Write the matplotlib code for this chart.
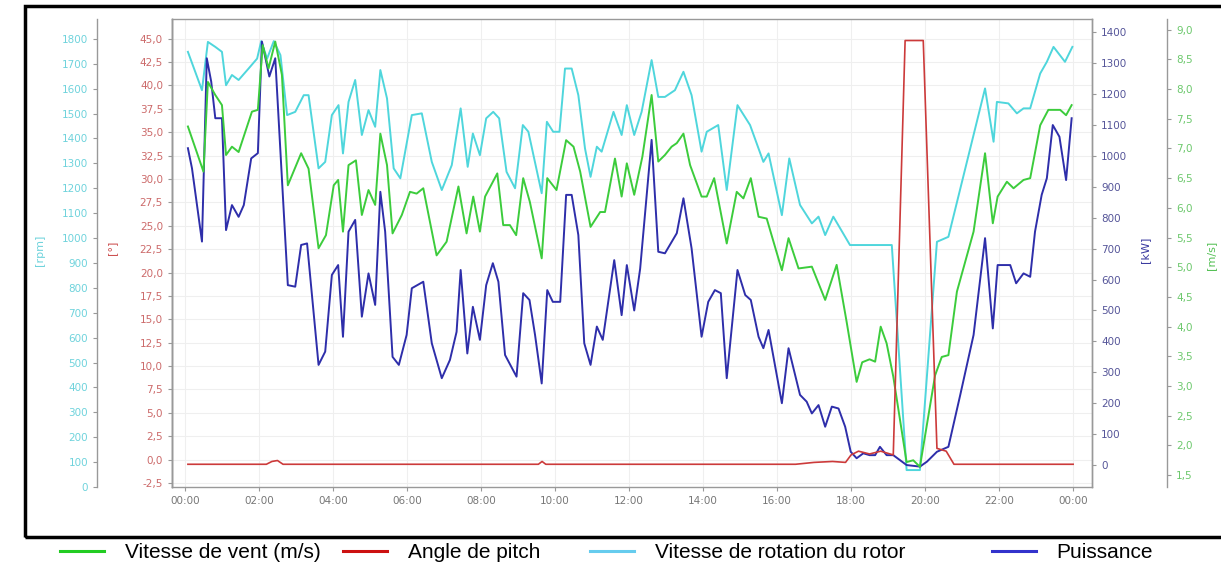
import matplotlib
matplotlib.use("Agg")
import matplotlib.pyplot as plt
from matplotlib.lines import Line2D
from matplotlib.patches import Rectangle
from matplotlib.ticker import FuncFormatter

# ---- data (hours since 00:00) ----
cyan_t = [0.08, 0.46, 0.62, 0.82, 1.0, 1.11, 1.27, 1.45, 1.72, 1.95,
          2.06, 2.22, 2.40, 2.58, 2.76, 2.98, 3.21, 3.34, 3.61, 3.79,
          3.97, 4.15, 4.27, 4.42, 4.60, 4.78, 4.96, 5.14, 5.28, 5.46,
          5.64, 5.82, 6.13, 6.40, 6.67, 6.94, 7.21, 7.45, 7.64, 7.78,
          7.97, 8.14, 8.33, 8.49, 8.69, 8.92, 9.13, 9.28, 9.64, 9.78,
          9.95, 10.12, 10.27, 10.45, 10.63, 10.81, 10.96, 11.13, 11.26, 11.58,
          11.80, 11.94, 12.14, 12.34, 12.61, 12.79, 12.97, 13.24, 13.47, 13.69,
          13.96, 14.10, 14.41, 14.64, 14.93, 15.27, 15.63, 15.77, 16.13, 16.33,
          16.62, 16.94, 17.12, 17.30, 17.52, 17.97, 19.10, 19.50, 19.86, 20.32,
          20.63, 21.62, 21.85, 21.94, 22.25, 22.48, 22.66, 22.84, 23.11, 23.29,
          23.47, 23.78, 23.98]
cyan_rpm = [1748, 1594, 1788, 1768, 1748, 1614, 1655, 1635, 1681, 1721,
            1791, 1721, 1791, 1735, 1494, 1507, 1574, 1574, 1280, 1306,
            1494, 1534, 1340, 1547, 1635, 1414, 1514, 1447, 1675, 1561,
            1280, 1240, 1494, 1501, 1306, 1193, 1293, 1521, 1286, 1420,
            1333, 1481, 1507, 1481, 1266, 1200, 1454, 1427, 1180, 1467,
            1427, 1427, 1681, 1681, 1574, 1360, 1246, 1367, 1347, 1507,
            1414, 1534, 1414, 1507, 1715, 1567, 1567, 1594, 1668, 1574,
            1347, 1427, 1454, 1193, 1534, 1454, 1306, 1340, 1092, 1320,
            1133, 1059, 1086, 1012, 1086, 972, 972, 68, 68, 985,
            1005, 1601, 1387, 1547, 1541, 1501, 1521, 1521, 1661, 1708,
            1768, 1708, 1768]

green_t = [0.08, 0.50, 0.62, 0.82, 1.0, 1.11, 1.27, 1.45, 1.81, 1.97,
           2.10, 2.26, 2.44, 2.62, 2.78, 3.14, 3.34, 3.61, 3.81, 4.02,
           4.14, 4.27, 4.42, 4.62, 4.78, 4.96, 5.14, 5.28, 5.46, 5.61,
           5.86, 6.08, 6.26, 6.44, 6.80, 7.07, 7.39, 7.61, 7.79, 7.97,
           8.11, 8.44, 8.60, 8.78, 8.95, 9.14, 9.32, 9.64, 9.79, 10.04,
           10.30, 10.50, 10.68, 10.96, 11.22, 11.35, 11.62, 11.80, 11.94, 12.14,
           12.36, 12.61, 12.79, 12.97, 13.15, 13.29, 13.47, 13.65, 13.96, 14.10,
           14.30, 14.64, 14.91, 15.09, 15.29, 15.50, 15.72, 16.13, 16.31, 16.58,
           16.94, 17.30, 17.61, 17.88, 18.15, 18.30, 18.50, 18.65, 18.80, 18.96,
           19.14, 19.50, 19.68, 19.86, 20.27, 20.45, 20.63, 20.86, 21.31, 21.62,
           21.83, 21.96, 22.21, 22.39, 22.66, 22.84, 23.11, 23.33, 23.65, 23.81,
           23.96]
green_ms = [7.37, 6.61, 8.12, 7.90, 7.73, 6.89, 7.03, 6.94, 7.62, 7.65,
            8.74, 8.35, 8.80, 8.24, 6.38, 6.92, 6.66, 5.32, 5.54, 6.38,
            6.47, 5.60, 6.72, 6.80, 5.88, 6.30, 6.05, 7.25, 6.72, 5.57,
            5.88, 6.27, 6.24, 6.33, 5.20, 5.43, 6.36, 5.57, 6.19, 5.60,
            6.19, 6.58, 5.71, 5.71, 5.54, 6.50, 6.10, 5.15, 6.50, 6.30,
            7.14, 7.03, 6.61, 5.68, 5.93, 5.93, 6.83, 6.19, 6.75, 6.22,
            6.86, 7.90, 6.78, 6.89, 7.03, 7.09, 7.25, 6.72, 6.19, 6.19,
            6.50, 5.40, 6.27, 6.16, 6.50, 5.85, 5.82, 4.95, 5.49, 4.98,
            5.01, 4.45, 5.04, 4.08, 3.07, 3.40, 3.45, 3.41, 4.00, 3.72,
            3.16, 1.72, 1.75, 1.64, 3.18, 3.49, 3.52, 4.59, 5.60, 6.92,
            5.74, 6.19, 6.44, 6.33, 6.47, 6.50, 7.39, 7.65, 7.65, 7.56,
            7.73]

blue_t = [0.08, 0.19, 0.46, 0.59, 0.71, 0.82, 1.0, 1.11, 1.27, 1.45,
          1.59, 1.79, 1.97, 2.08, 2.28, 2.44, 2.78, 2.98, 3.14, 3.30,
          3.61, 3.79, 3.97, 4.14, 4.27, 4.42, 4.60, 4.78, 4.96, 5.14,
          5.28, 5.41, 5.61, 5.78, 5.99, 6.13, 6.44, 6.67, 6.94, 7.16,
          7.34, 7.45, 7.63, 7.78, 7.97, 8.14, 8.32, 8.47, 8.65, 8.96,
          9.14, 9.31, 9.46, 9.64, 9.79, 9.94, 10.14, 10.30, 10.45, 10.63,
          10.79, 10.96, 11.13, 11.29, 11.60, 11.80, 11.94, 12.14, 12.30, 12.61,
          12.79, 12.97, 13.29, 13.47, 13.69, 13.96, 14.14, 14.32, 14.48, 14.64,
          14.93, 15.14, 15.29, 15.50, 15.63, 15.77, 16.13, 16.31, 16.62, 16.80,
          16.94, 17.12, 17.30, 17.48, 17.66, 17.84, 17.99, 18.15, 18.33, 18.50,
          18.65, 18.78, 18.96, 19.14, 19.50, 19.86, 20.05, 20.32, 20.63, 20.95,
          21.31, 21.62, 21.83, 21.96, 22.30, 22.46, 22.66, 22.84, 22.97, 23.15,
          23.29, 23.45, 23.63, 23.81, 23.96]
blue_kw = [1025, 960, 723, 1316, 1240, 1122, 1122, 760, 841, 803,
           841, 992, 1009, 1370, 1257, 1316, 582, 577, 712, 717,
           324, 367, 615, 647, 415, 755, 793, 480, 620, 518,
           884, 755, 350, 324, 421, 572, 593, 394, 281, 340,
           431, 631, 361, 512, 405, 582, 653, 593, 356, 286,
           556, 534, 421, 264, 566, 528, 528, 874, 874, 744,
           394, 324, 448, 405, 663, 485, 647, 500, 635, 1052,
           690, 685, 750, 863, 701, 415, 528, 566, 556, 281,
           631, 550, 534, 415, 378, 437, 200, 378, 227, 205,
           167, 194, 124, 189, 183, 124, 43, 22, 38, 32,
           32, 59, 32, 32, 0, -5, 11, 43, 59, 227,
           421, 734, 442, 647, 647, 588, 620, 609, 755, 874,
           928, 1100, 1062, 922, 1122]

red_t = [0.08, 2.2, 2.35, 2.5, 2.65, 9.55, 9.65, 9.75, 16.5, 17.0,
         17.5, 17.85, 18.0, 18.2, 18.5, 18.8, 19.14, 19.46, 19.95, 20.32,
         20.57, 20.78, 24.0]
red_deg = [-0.5, -0.5, -0.2, -0.1, -0.5, -0.5, -0.2, -0.5, -0.5, -0.3,
           -0.2, -0.3, 0.5, 0.9, 0.6, 0.9, 0.5, 44.8, 44.8, 1.2,
           0.9, -0.5, -0.5]

hour_ticks = [0, 2, 4, 6, 8, 10, 12, 14, 16, 18, 20, 22, 24]
hour_labels = ["00:00", "02:00", "04:00", "06:00", "08:00", "10:00", "12:00",
               "14:00", "16:00", "18:00", "20:00", "22:00", "00:00"]

legend_names = ["Vitesse de vent (m/s)", "Angle de pitch",
                "Vitesse de rotation du rotor", "Puissance"]

W, H = 1221, 567
fig = plt.figure(figsize=(W / 100, H / 100), dpi=100)
plt.rcParams['font.family'] = ['DejaVu Sans']

left, right, top, bottom = 172, 1092, 19, 487
ax = fig.add_axes([left / W, 1 - bottom / H, (right - left) / W, (bottom - top) / H])
ax_rpm = ax.twinx()
ax_kw = ax.twinx()
ax_ms = ax.twinx()

spine_col = "#999999"
for a in (ax, ax_rpm, ax_kw, ax_ms):
    for s in a.spines.values():
        s.set_color(spine_col)
        s.set_linewidth(1.0)
    a.tick_params(length=3, width=0.8, color=spine_col, labelsize=7.5)

# red (pitch) on main axis
ax.set_xlim(-0.35, 24.51)
ax.set_ylim(-2.93, 47.1)
ax.set_yticks([-2.5 + 2.5 * i for i in range(20)])
ax.yaxis.set_major_formatter(FuncFormatter(lambda v, p: f"{v:.1f}".replace(".", ",")))
ax.tick_params(axis='y', labelcolor="#cc6a6a")
ax.set_xticks(hour_ticks)
ax.set_xticklabels(hour_labels)
ax.tick_params(axis='x', labelcolor="#777777", labelsize=7.5)
ax.grid(True, color="#efefef", linewidth=0.8)
ax.set_axisbelow(True)

# rpm axis on far left (75 px = 54 pt)
ax_rpm.spines['left'].set_position(('outward', 54))
ax_rpm.spines['left'].set_visible(True)
ax_rpm.spines['right'].set_visible(False)
ax_rpm.yaxis.set_ticks_position('left')
ax_rpm.yaxis.set_label_position('left')
ax_rpm.set_ylim(0, 1880)
ax_rpm.set_yticks(range(0, 1900, 100))
ax_rpm.tick_params(axis='y', labelcolor="#6fd3dc")

# kW axis on right
ax_kw.set_ylim(-71, 1443)
ax_kw.set_yticks(range(0, 1500, 100))
ax_kw.tick_params(axis='y', labelcolor="#555599")

# m/s axis far right
ax_ms.spines['right'].set_position(('outward', 54))
ax_ms.set_ylim(1.30, 9.18)
ax_ms.set_yticks([1.5 + 0.5 * i for i in range(16)])
ax_ms.yaxis.set_major_formatter(FuncFormatter(lambda v, p: f"{v:.1f}".replace(".", ",")))
ax_ms.tick_params(axis='y', labelcolor="#6cc86c")

for a in (ax_rpm, ax_kw, ax_ms):
    a.spines['top'].set_visible(False)
    a.spines['bottom'].set_visible(False)

ax_ms.plot(green_t, green_ms, color="#3ccc3c", lw=1.4)
ax_rpm.plot(cyan_t, cyan_rpm, color="#4fd6dc", lw=1.4)
ax_kw.plot(blue_t, blue_kw, color="#2e2eaa", lw=1.4)
ax_ms.plot(red_t, red_deg, color="#cc3a3a", lw=1.2, transform=ax.transData)

# unit labels
fig.text(40 / W, 1 - 250 / H, "[rpm]", color="#6fd3dc", rotation=90, ha='center', va='center', fontsize=8)
fig.text(112 / W, 1 - 248 / H, "[°]", color="#cc5050", rotation=90, ha='center', va='center', fontsize=8)
fig.text(1145 / W, 1 - 250 / H, "[kW]", color="#3a3aa0", rotation=90, ha='center', va='center', fontsize=8)
fig.text(1211 / W, 1 - 255 / H, "[m/s]", color="#55c055", rotation=90, ha='center', va='center', fontsize=8)

# outer black frame
fig.add_artist(Rectangle((25 / W, 1 - 537 / H), 1.0, (537 - 6) / H,
                         transform=fig.transFigure, fill=False,
                         edgecolor="black", linewidth=2.5, clip_on=False))

# legend entries below the frame
leg_colors = ["#22cc22", "#cc1111", "#66ccee", "#3333cc"]
leg_x = [60, 343, 590, 992]
for name, col, x0 in zip(legend_names, leg_colors, leg_x):
    h = Line2D([], [], color=col, lw=2.2)
    fig.legend(handles=[h], labels=[name], loc='center left',
               bbox_to_anchor=(x0 / W, 1 - 553 / H), frameon=False,
               prop={'family': 'Liberation Sans', 'size': 15},
               handlelength=2.1, handletextpad=1.0, borderpad=0, borderaxespad=0)

fig.savefig("out.png", dpi=100)
